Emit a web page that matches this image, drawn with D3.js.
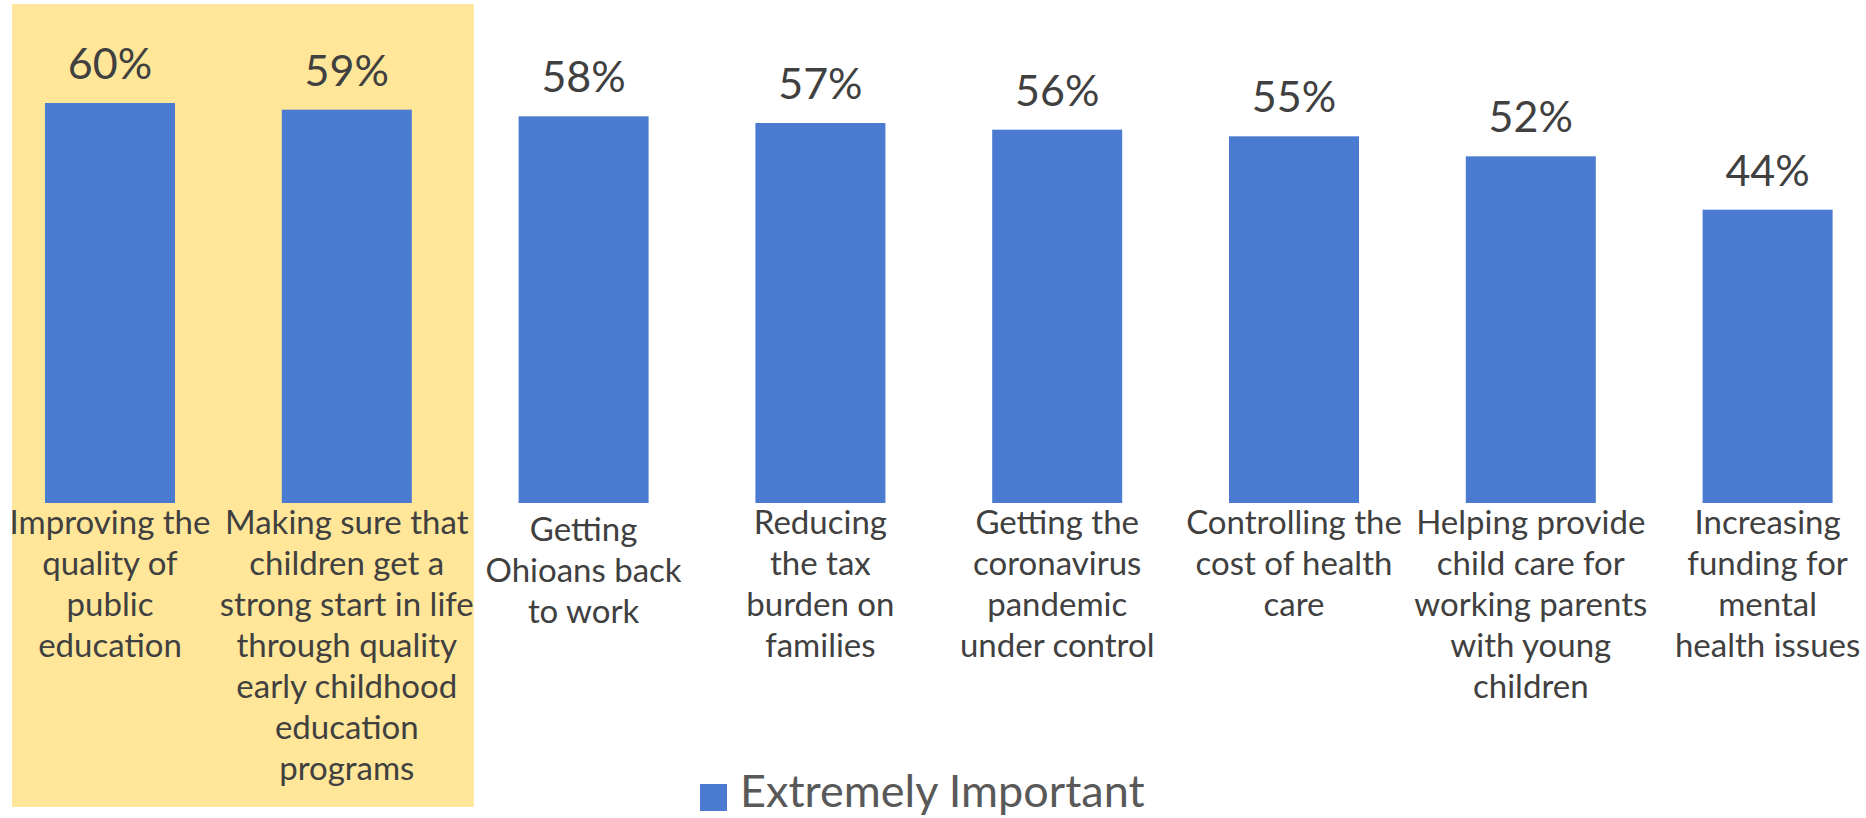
<!DOCTYPE html>
<html>
<head>
<meta charset="utf-8">
<script src="https://cdn.jsdelivr.net/npm/d3@7"></script>
<style>
  html, body { margin: 0; padding: 0; background: #ffffff; }
  svg { display: block; }
</style>
</head>
<body>
<svg id="chart" width="1866" height="818"></svg>
<script>
const categories = [
  "Improving the\nquality of\npublic\neducation",
  "Making sure that\nchildren get a\nstrong start in life\nthrough quality\nearly childhood\neducation\nprograms",
  "Getting\nOhioans back\nto work",
  "Reducing\nthe tax\nburden on\nfamilies",
  "Getting the\ncoronavirus\npandemic\nunder control",
  "Controlling the\ncost of health\ncare",
  "Helping provide\nchild care for\nworking parents\nwith young\nchildren",
  "Increasing\nfunding for\nmental\nhealth issues"
];
const values = [60, 59, 58, 57, 56, 55, 52, 44];
const valueLabels = ["60%", "59%", "58%", "57%", "56%", "55%", "52%", "44%"];
const seriesName = "Extremely Important";
const highlighted = [0, 1];

const W = 1866, H = 818;
const FONT = "Lato, 'Open Sans', sans-serif";
const BAR = "#4a7bd0";
const svg = d3.select("#chart");

const step = 236.8;
const x = d3.scaleBand()
  .domain(d3.range(categories.length))
  .range([110 - step / 2, 110 - step / 2 + step * categories.length])
  .paddingInner(0.451)
  .paddingOuter(0.2255);

const y = d3.scaleLinear().domain([0, 60]).range([503, 103]);

// highlight band behind first two categories
const hx0 = x(highlighted[0]) + x.bandwidth() / 2 - 98;
const hx1 = x(highlighted[highlighted.length - 1]) + x.bandwidth() / 2 + 127;
svg.append("rect")
  .attr("x", hx0).attr("y", 4)
  .attr("width", hx1 - hx0).attr("height", 803)
  .attr("fill", "#ffe699");

// bars
svg.append("g").selectAll("rect")
  .data(values)
  .join("rect")
  .attr("x", (d, i) => x(i))
  .attr("y", d => y(d))
  .attr("width", x.bandwidth())
  .attr("height", d => y(0) - y(d))
  .attr("fill", BAR);

// value labels
svg.append("g").selectAll("text")
  .data(values)
  .join("text")
  .attr("x", (d, i) => x(i) + x.bandwidth() / 2)
  .attr("y", d => y(d) - 24)
  .attr("text-anchor", "middle")
  .attr("font-family", FONT)
  .attr("font-size", 43)
  .attr("fill", "#404040")
  .text((d, i) => valueLabels[i]);

// category labels
const catG = svg.append("g");
categories.forEach((c, i) => {
  const lines = c.split("\n");
  const t = catG.append("text")
    .attr("x", x(i) + x.bandwidth() / 2)
    .attr("y", y(0) + 31 + (lines.length === 3 && i === 2 ? 7 : 0))
    .attr("text-anchor", "middle")
    .attr("font-family", FONT)
    .attr("font-size", 33)
    .attr("fill", "#404040");
  lines.forEach((line, j) => {
    t.append("tspan")
      .attr("x", x(i) + x.bandwidth() / 2)
      .attr("dy", j === 0 ? 0 : 41)
      .text(line);
  });
});

// legend
const lg = svg.append("g");
lg.append("rect")
  .attr("x", 700).attr("y", 784)
  .attr("width", 27).attr("height", 27)
  .attr("fill", BAR);
lg.append("text")
  .attr("x", 740).attr("y", 807)
  .attr("font-family", FONT)
  .attr("font-size", 45)
  .attr("fill", "#595959")
  .text(seriesName);
</script>
</body>
</html>
